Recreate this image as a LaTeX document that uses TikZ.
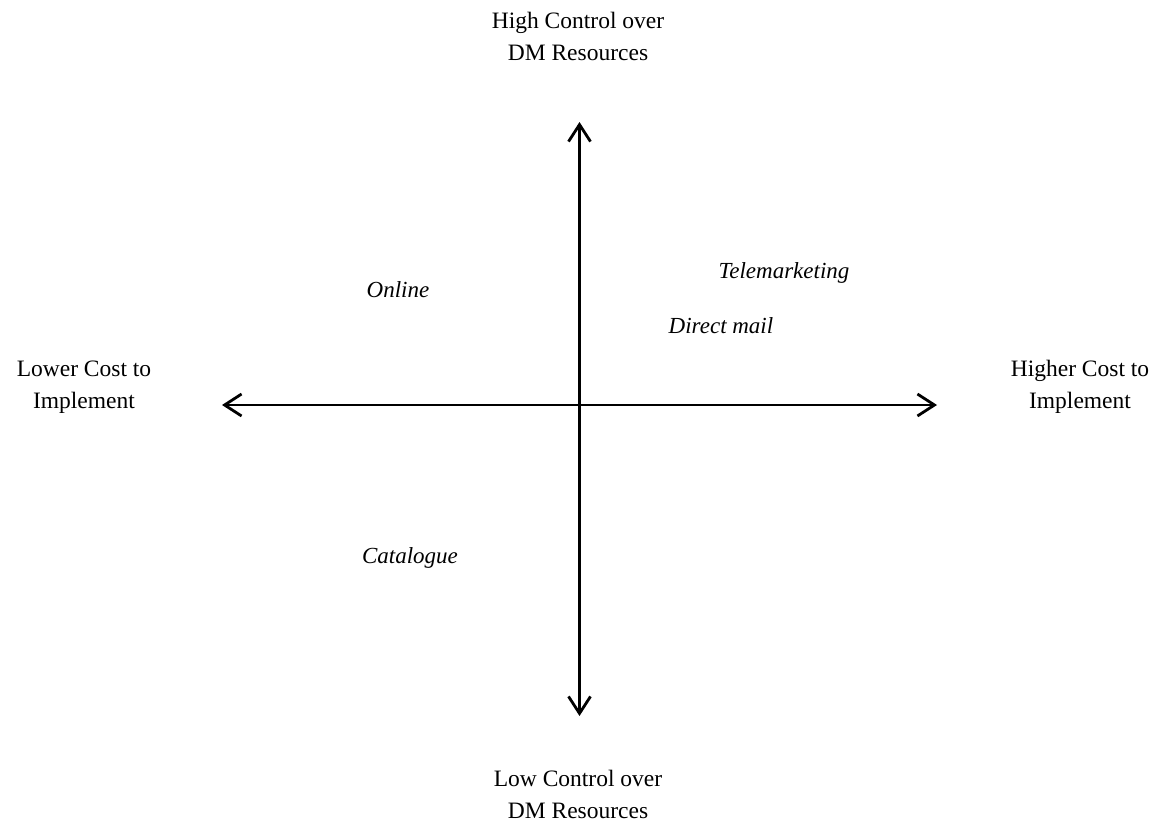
\documentclass[tikz,border=0pt]{standalone}
\usepackage{fontspec}
\setmainfont{Liberation Serif}
\usetikzlibrary{arrows.meta}
\begin{document}
\begin{tikzpicture}[x=1pt,y=-1pt,
  axislabel/.style={align=center,font=\fontsize{23.5}{32}\selectfont,inner sep=0pt},
  item/.style={font=\fontsize{23}{28}\selectfont\itshape,inner sep=0pt},
  axis/.style={line width=2.8pt,{Straight Barb[length=17pt,width=22pt,line width=2.8pt]}-{Straight Barb[length=17pt,width=22pt,line width=2.8pt]}}]
\useasboundingbox (0,0) rectangle (1158,822);
% axis end points
\coordinate (left) at (222,405);
\coordinate (right) at (937,405);
\coordinate (top) at (579.5,122);
\coordinate (bottom) at (579.5,716);
\draw[axis] (left) -- (right);
\draw[axis] (top) -- (bottom);
% axis labels
\node[axislabel] (hi) at (578,36) {High Control over\\DM Resources};
\node[axislabel] (lo) at (578,794) {Low Control over\\DM Resources};
\node[axislabel] (lc) at (84,387) {Lower Cost to\\Implement};
\node[axislabel] (hc) at (1080,387) {Higher Cost to\\Implement};
% channels
\node[item] (online) at (398,290) {Online};
\node[item] (tele) at (784,273) {Telemarketing};
\node[item] (dm) at (721,326) {Direct mail};
\node[item] (cat) at (410,558) {Catalogue};
\end{tikzpicture}
\end{document}
